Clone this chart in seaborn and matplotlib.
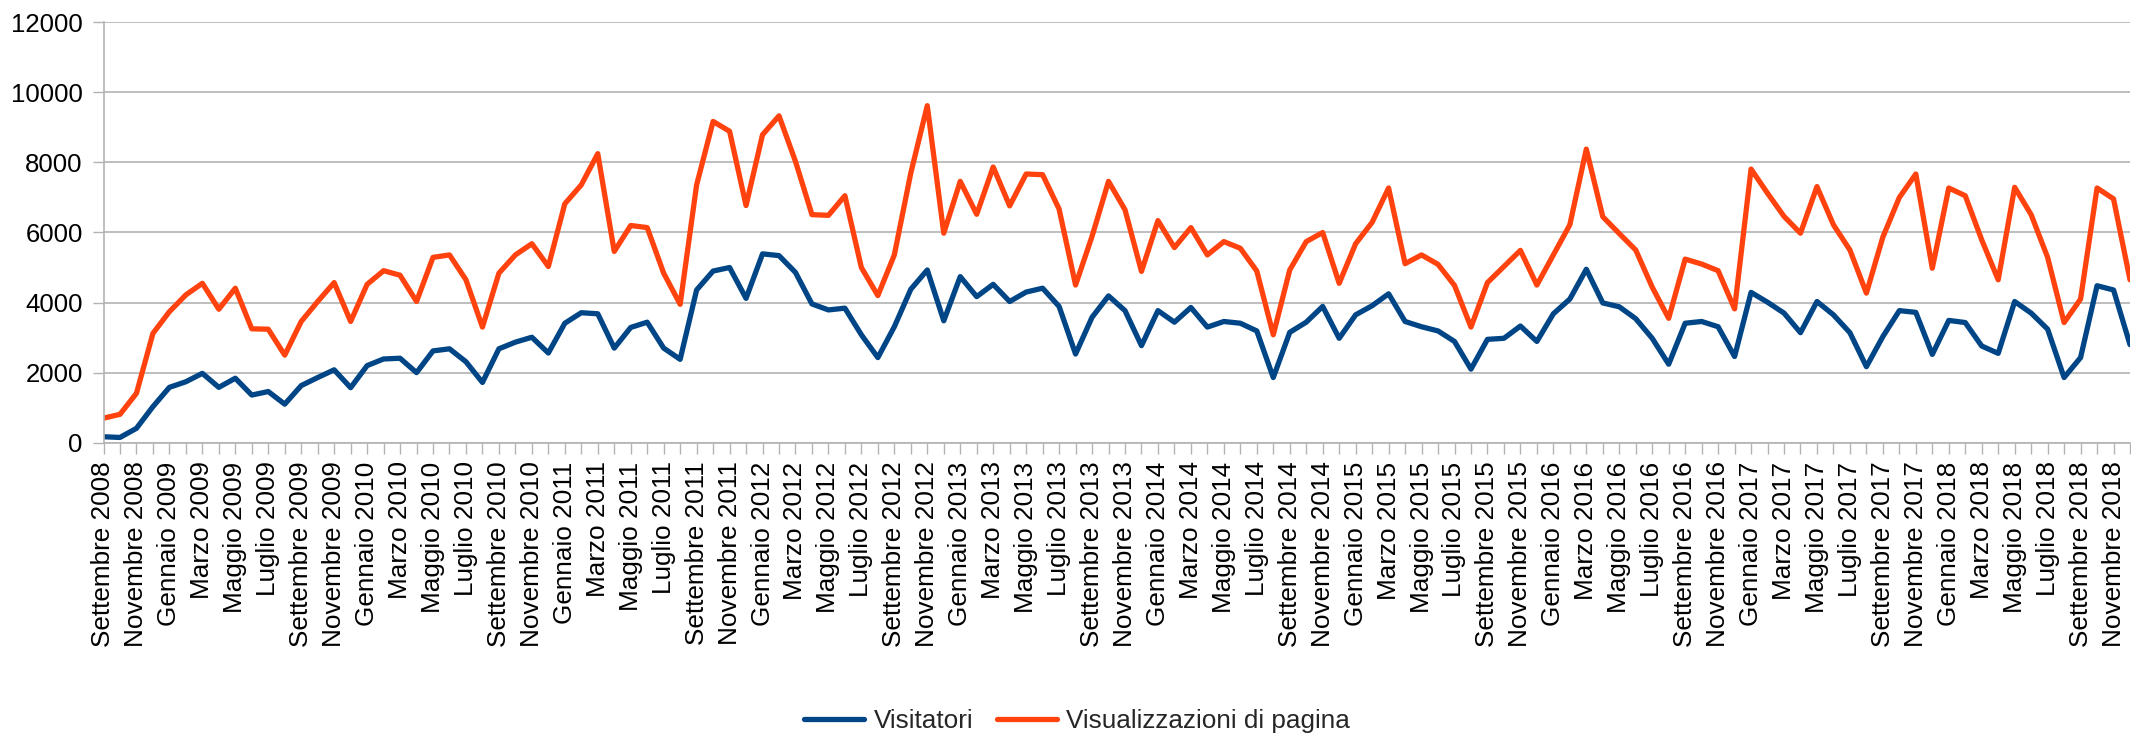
import numpy as np
import pandas as pd
import matplotlib
matplotlib.use("Agg")
import matplotlib.pyplot as plt
import seaborn as sns

# Monthly traffic, Settembre 2008 - Dicembre 2018
MESI = ["Gennaio", "Febbraio", "Marzo", "Aprile", "Maggio", "Giugno",
        "Luglio", "Agosto", "Settembre", "Ottobre", "Novembre", "Dicembre"]
ANNO_INIZIO = 2008
MESE_INIZIO = 8  # Settembre (0-based)

visitatori = [
    170, 150, 410, 1030, 1580, 1740, 1980, 1580, 1840, 1360, 1460, 1100,
    1630, 1860, 2080, 1570, 2200, 2390, 2410, 2000, 2620, 2680, 2310, 1720,
    2680, 2870, 3010, 2560, 3410, 3710, 3680, 2700, 3290, 3440, 2700, 2380,
    4360, 4900, 5000, 4120, 5390, 5340, 4860, 3960, 3790, 3840, 3080, 2430,
    3310, 4380, 4930, 3480, 4740, 4170, 4520, 4030, 4300, 4410, 3890, 2530,
    3580, 4190, 3770, 2770, 3770, 3440, 3860, 3300, 3460, 3410, 3190, 1860,
    3150, 3440, 3890, 2980, 3650, 3910, 4250, 3460, 3310, 3190, 2890, 2100,
    2950, 2980, 3330, 2890, 3680, 4100, 4950, 3990, 3880, 3540, 2980, 2240,
    3410, 3460, 3310, 2460, 4290, 4010, 3700, 3140, 4030, 3650, 3140, 2170,
    3030, 3770, 3720, 2520, 3490, 3430, 2760, 2550, 4030, 3700, 3240, 1860,
    2430, 4480, 4360, 2800,
]

visualizzazioni = [
    700, 810, 1410, 3120, 3740, 4220, 4550, 3810, 4410, 3250, 3240, 2500,
    3460, 4030, 4570, 3460, 4520, 4910, 4780, 4030, 5290, 5360, 4650, 3300,
    4840, 5360, 5680, 5030, 6820, 7360, 8250, 5460, 6200, 6140, 4840, 3950,
    7360, 9170, 8890, 6770, 8790, 9330, 8030, 6510, 6490, 7050, 5000, 4200,
    5360, 7700, 9620, 5980, 7460, 6520, 7870, 6760, 7670, 7650, 6670, 4500,
    5890, 7460, 6650, 4890, 6340, 5570, 6140, 5360, 5740, 5550, 4900, 3080,
    4930, 5740, 6000, 4550, 5680, 6290, 7270, 5110, 5360, 5090, 4490, 3300,
    4570, 5030, 5490, 4500, 5360, 6220, 8380, 6450, 5970, 5500, 4440, 3550,
    5240, 5100, 4910, 3820, 7810, 7120, 6460, 5980, 7310, 6220, 5500, 4270,
    5870, 7000, 7670, 4980, 7270, 7050, 5790, 4650, 7290, 6510, 5290, 3430,
    4100, 7270, 6960, 4650,
]

SERIE = ["Visitatori", "Visualizzazioni di pagina"]
COLORI = ["#004586", "#ff420e"]

n = len(visitatori)
etichette = []
for i in range(n):
    k = MESE_INIZIO + i
    etichette.append(f"{MESI[k % 12]} {ANNO_INIZIO + k // 12}")

df = pd.DataFrame({
    "mese": list(range(n)) * 2,
    "valore": visitatori + visualizzazioni,
    "serie": [SERIE[0]] * n + [SERIE[1]] * n,
})

sns.set_theme(style="white")
plt.rcParams["font.family"] = ["Liberation Sans", "DejaVu Sans"]

W, H, DPI = 2131, 735, 100
fig = plt.figure(figsize=(W / DPI, H / DPI), dpi=DPI)
ax = fig.add_axes([103.5 / W, 1 - 442.7 / H, (2130 - 103.5) / W, (442.7 - 22.3) / H])

sns.lineplot(data=df, x="mese", y="valore", hue="serie", hue_order=SERIE,
             palette=COLORI, linewidth=3.8, ax=ax, legend=False,
             solid_joinstyle="round", solid_capstyle="round")

grid_c = "#b3b3b3"
ax.set_xlim(0, n - 1)
ax.set_ylim(0, 12000)
ax.set_yticks(np.arange(0, 12001, 2000))
ax.yaxis.grid(True, color=grid_c, linewidth=1.2)
ax.xaxis.grid(False)
ax.set_axisbelow(True)

ax.set_xticks(range(n))
ax.set_xticklabels([e if i % 2 == 0 else "" for i, e in enumerate(etichette)],
                   rotation=90, fontsize=18.8, color="#000000")
ax.tick_params(axis="x", length=8, width=1.0, color=grid_c, pad=5.5, direction="out")
ax.tick_params(axis="y", length=8, width=1.0, color=grid_c, pad=7, labelsize=18.5,
               labelcolor="#000000", direction="out")
ax.tick_params(axis="both", bottom=True, left=True)

for side in ["top", "right"]:
    ax.spines[side].set_visible(False)
for side in ["left", "bottom"]:
    ax.spines[side].set_color(grid_c)
    ax.spines[side].set_linewidth(1.2)

ax.set_xlabel("")
ax.set_ylabel("")

handles = [plt.Line2D([], [], color=c, linewidth=3.8) for c in COLORI]
fig.legend(handles, SERIE, loc="center", bbox_to_anchor=(1077 / W, 1 - 721 / H),
           ncol=2, frameon=False, fontsize=18.8, handlelength=2.3,
           handletextpad=0.35, columnspacing=0.9)

fig.savefig("out.png", dpi=DPI, facecolor="white")
